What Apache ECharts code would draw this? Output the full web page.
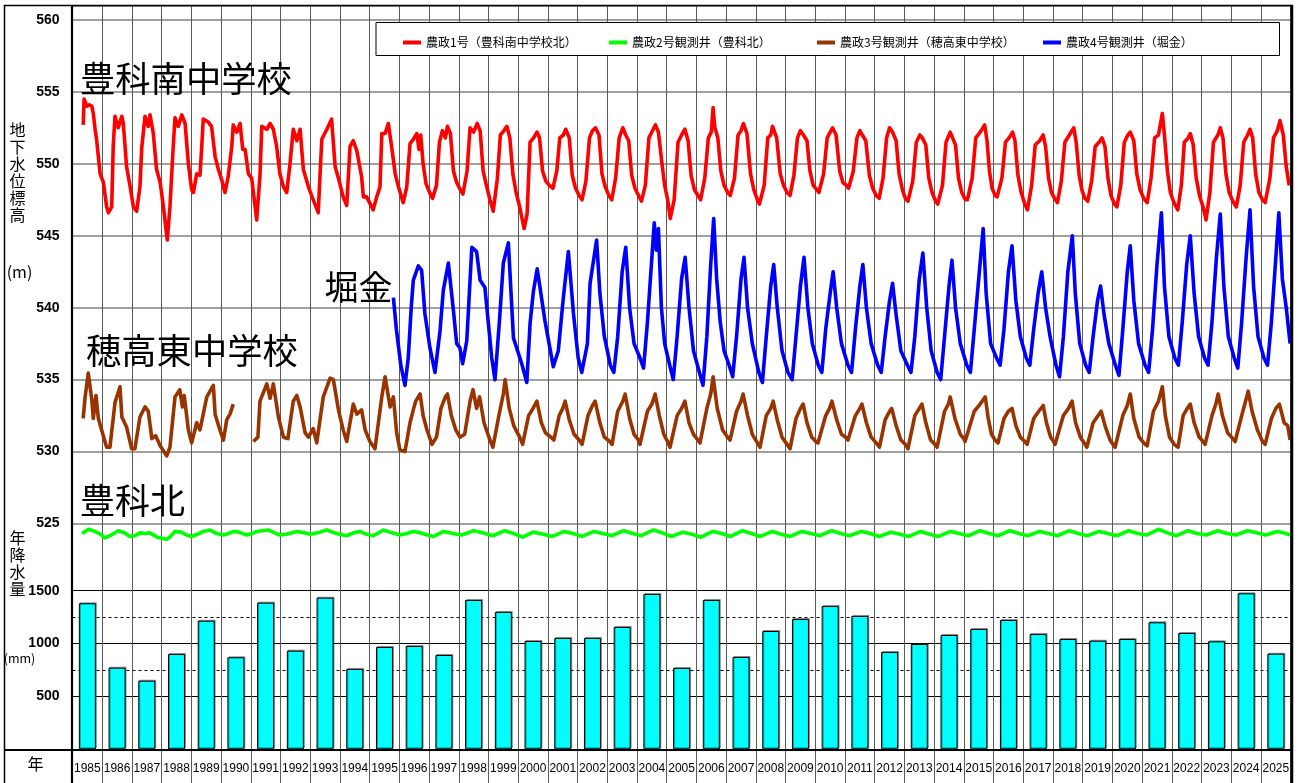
<!DOCTYPE html>
<html>
<head>
<meta charset="utf-8">
<script src="https://cdn.jsdelivr.net/npm/echarts@6/dist/echarts.min.js"></script>
<style>
html,body{margin:0;padding:0;background:#fff;}
#chart{width:1298px;height:783px;}
</style>
</head>
<body>
<div id="chart"></div>
<script>
// 年（降水量の棒グラフとx軸目盛）
const years = [1985,1986,1987,1988,1989,1990,1991,1992,1993,1994,1995,1996,1997,1998,1999,2000,
  2001,2002,2003,2004,2005,2006,2007,2008,2009,2010,2011,2012,2013,2014,2015,2016,2017,2018,2019,2020,
  2021,2022,2023,2024,2025];

// 年降水量 (mm)
const rainfall = [1381,772,649,901,1216,870,1387,933,1434,760,968,977,892,1412,1299,1024,
  1053,1053,1157,1469,769,1412,873,1119,1232,1355,1261,920,996,1081,1138,1223,1090,1043,1027,1043,
  1201,1100,1021,1475,904];

// 地下水位標高 (m)  [年(小数), 標高]
const well1 = [ // 農政1号（豊科南中学校北）
[1985.36,552.7],[1985.39,554.5],[1985.48,554.0],[1985.57,554.1],[1985.65,554.0],[1985.70,553.5],[1985.76,552.4],[1985.81,551.7],[1985.93,549.3],
[1986.04,548.7],[1986.15,547.0],[1986.21,546.6],[1986.32,547.0],[1986.37,551.2],[1986.43,553.3],[1986.54,552.5],[1986.66,553.3],[1986.71,552.8],[1986.82,549.8],[1986.94,548.4],
[1987.05,547.0],[1987.16,546.7],[1987.27,548.4],[1987.33,551.1],[1987.44,553.3],[1987.55,552.6],[1987.61,553.4],[1987.72,552.1],[1987.83,549.6],[1987.95,548.7],
[1988.06,547.0],[1988.19,544.7],[1988.28,547.0],[1988.39,551.2],[1988.45,553.2],[1988.56,552.6],[1988.68,553.4],[1988.79,552.8],[1988.90,550.0],
[1989.01,548.2],[1989.07,548.0],[1989.18,549.3],[1989.29,549.2],[1989.35,551.2],[1989.40,553.1],[1989.57,552.9],[1989.68,552.6],[1989.80,550.5],[1989.91,549.6],
[1990.02,548.9],[1990.13,548.0],[1990.24,549.1],[1990.36,551.2],[1990.41,552.7],[1990.53,552.2],[1990.64,552.8],[1990.73,551.0],[1990.81,551.0],[1990.92,549.3],
[1991.03,549.0],[1991.20,546.1],[1991.31,549.2],[1991.37,552.6],[1991.54,552.4],[1991.65,552.8],[1991.76,552.4],[1991.87,551.2],[1991.98,549.3],
[1992.10,548.4],[1992.21,548.0],[1992.32,550.0],[1992.43,552.4],[1992.55,551.6],[1992.66,552.4],[1992.77,549.6],[1992.94,548.4],
[1993.10,547.5],[1993.27,546.6],[1993.39,551.7],[1993.56,552.4],[1993.72,553.1],[1993.84,549.8],[1993.95,549.0],
[1994.11,547.7],[1994.23,547.1],[1994.34,551.2],[1994.45,551.6],[1994.57,550.9],[1994.73,549.1],[1994.79,547.7],[1994.90,547.7],
[1995.12,546.8],[1995.24,547.7],[1995.35,548.4],[1995.41,552.1],[1995.52,552.1],[1995.63,552.8],[1995.74,551.2],[1995.86,549.3],[1995.97,548.4],
[1996.13,547.3],[1996.25,548.4],[1996.36,551.4],[1996.47,551.7],[1996.59,552.1],[1996.66,551.0],[1996.72,552.0],[1996.80,550.0],[1996.90,548.6],
[1997.02,548.0],[1997.12,547.6],[1997.25,548.5],[1997.35,551.5],[1997.45,552.3],[1997.55,551.8],[1997.62,552.6],[1997.72,552.1],[1997.82,549.5],[1997.93,548.7],
[1998.05,548.2],[1998.14,547.9],[1998.28,549.5],[1998.38,552.5],[1998.50,552.2],[1998.62,552.8],[1998.72,552.3],[1998.82,549.5],[1998.93,548.5],
[1999.05,547.5],[1999.16,546.7],[1999.30,549.0],[1999.40,552.0],[1999.52,552.3],[1999.62,552.6],[1999.72,551.8],[1999.82,549.3],[1999.93,548.0],
[2000.05,547.0],[2000.20,545.5],[2000.30,546.5],[2000.40,551.5],[2000.52,551.8],[2000.63,552.2],[2000.72,551.8],[2000.82,549.5],[2000.93,548.8],
[2001.05,548.5],[2001.17,548.3],[2001.30,549.5],[2001.40,551.8],[2001.52,552.0],[2001.60,552.4],[2001.72,551.8],[2001.82,549.2],[2001.93,548.3],
[2002.05,547.8],[2002.15,547.5],[2002.28,548.8],[2002.40,551.8],[2002.50,552.3],[2002.60,552.5],[2002.72,552.0],[2002.82,549.3],[2002.93,548.4],
[2003.05,547.8],[2003.15,547.5],[2003.28,549.0],[2003.40,551.8],[2003.52,552.5],[2003.62,552.0],[2003.72,551.6],[2003.82,549.2],[2003.93,548.3],
[2004.05,547.8],[2004.15,547.4],[2004.28,548.5],[2004.40,551.8],[2004.52,552.3],[2004.62,552.7],[2004.72,552.2],[2004.84,550.0],[2004.93,548.5],
[2005.03,547.5],[2005.12,546.2],[2005.25,547.5],[2005.38,551.5],[2005.50,552.0],[2005.61,552.4],[2005.72,551.6],[2005.82,549.2],[2005.93,548.2],
[2006.05,547.8],[2006.14,547.5],[2006.28,549.0],[2006.40,551.8],[2006.50,552.2],[2006.56,553.9],[2006.62,552.5],[2006.72,551.8],[2006.82,549.5],[2006.93,548.5],
[2007.05,548.0],[2007.14,547.8],[2007.28,549.0],[2007.40,552.0],[2007.50,552.3],[2007.58,552.8],[2007.70,552.1],[2007.82,549.3],[2007.93,548.2],
[2008.05,547.5],[2008.12,547.2],[2008.28,548.5],[2008.40,551.8],[2008.50,552.0],[2008.56,552.6],[2008.70,551.8],[2008.82,549.3],[2008.93,548.5],
[2009.05,548.0],[2009.15,547.8],[2009.28,549.2],[2009.40,551.8],[2009.50,552.3],[2009.60,552.0],[2009.72,551.6],[2009.82,549.5],[2009.93,548.5],
[2010.05,548.2],[2010.12,548.0],[2010.28,549.3],[2010.40,551.8],[2010.50,552.2],[2010.58,552.5],[2010.70,552.0],[2010.82,549.5],[2010.93,548.7],
[2011.05,548.5],[2011.12,548.3],[2011.28,549.5],[2011.40,551.8],[2011.50,552.3],[2011.58,552.0],[2011.70,551.6],[2011.82,549.2],[2011.93,548.3],
[2012.05,547.8],[2012.15,547.6],[2012.28,549.0],[2012.40,551.8],[2012.50,552.5],[2012.60,552.2],[2012.72,551.6],[2012.82,549.3],[2012.93,548.2],
[2013.03,547.6],[2013.12,547.4],[2013.28,548.8],[2013.40,551.5],[2013.52,552.0],[2013.60,551.8],[2013.72,551.3],[2013.82,549.0],[2013.93,548.0],
[2014.05,547.4],[2014.12,547.2],[2014.28,548.5],[2014.40,551.5],[2014.54,552.2],[2014.62,551.8],[2014.72,551.3],[2014.82,549.0],[2014.93,548.0],
[2015.05,547.5],[2015.12,547.5],[2015.28,549.0],[2015.40,551.8],[2015.55,552.2],[2015.70,552.7],[2015.78,551.6],[2015.86,549.5],[2015.95,548.3],
[2016.05,547.8],[2016.12,547.7],[2016.28,549.0],[2016.40,551.5],[2016.52,551.8],[2016.64,552.2],[2016.72,551.6],[2016.82,549.2],[2016.93,548.0],
[2017.05,547.2],[2017.14,546.8],[2017.28,548.5],[2017.40,551.3],[2017.55,551.6],[2017.67,552.0],[2017.75,551.2],[2017.85,549.0],[2017.95,548.0],
[2018.05,547.6],[2018.15,547.3],[2018.28,548.8],[2018.40,551.5],[2018.55,552.0],[2018.70,552.5],[2018.78,551.5],[2018.88,549.2],[2018.97,548.2],
[2019.07,547.6],[2019.17,547.4],[2019.30,548.8],[2019.42,551.2],[2019.55,551.5],[2019.65,551.8],[2019.75,551.2],[2019.85,549.0],[2019.95,547.8],
[2020.07,547.2],[2020.15,547.0],[2020.28,548.5],[2020.40,551.5],[2020.52,552.0],[2020.60,552.2],[2020.72,551.6],[2020.82,549.3],[2020.93,548.2],
[2021.05,547.6],[2021.17,547.3],[2021.30,549.0],[2021.42,551.8],[2021.55,552.0],[2021.68,553.5],[2021.75,552.0],[2021.85,549.5],[2021.95,548.0],
[2022.07,547.3],[2022.20,546.8],[2022.32,548.5],[2022.42,551.5],[2022.55,551.8],[2022.62,552.1],[2022.72,551.3],[2022.82,549.0],[2022.93,547.8],
[2023.05,547.0],[2023.15,546.1],[2023.28,548.0],[2023.40,551.5],[2023.55,552.0],[2023.63,552.5],[2023.72,551.8],[2023.82,549.3],[2023.93,548.0],
[2024.05,547.4],[2024.17,547.0],[2024.30,548.5],[2024.42,551.5],[2024.55,552.0],[2024.63,552.4],[2024.72,551.8],[2024.82,549.3],[2024.93,548.0],
[2025.05,547.5],[2025.14,547.3],[2025.30,549.0],[2025.42,551.8],[2025.55,552.3],[2025.64,553.0],[2025.75,552.0],[2025.85,549.8],[2025.95,548.5]
];

const well2 = [ // 農政2号観測井（豊科北）
[1985.32,524.3],[1985.54,524.6],[1985.75,524.45],[1985.95,524.25],[1986.09,524.0],[1986.3,524.2],[1986.54,524.5],[1986.75,524.35],[1986.93,524.1],
[1987.1,524.15],[1987.27,524.35],[1987.45,524.3],[1987.6,524.35],[1987.85,524.05],[1988.17,523.9],[1988.3,524.1],[1988.45,524.45],[1988.65,524.4],[1988.84,524.2],
[1989.01,524.1],[1989.2,524.25],[1989.40,524.45],[1989.63,524.55],[1989.85,524.3],[1990.08,524.2],[1990.25,524.3],[1990.41,524.45],[1990.6,524.4],[1990.86,524.2],
[1991.05,524.3],[1991.20,524.45],[1991.59,524.55],[1991.8,524.35],[1991.98,524.2],[1992.2,524.25],[1992.55,524.45],[1992.8,524.35],[1993.0,524.25],[1993.25,524.35],
[1993.56,524.55],[1993.75,524.4],[1993.89,524.3],[1994.23,524.15],[1994.45,524.35],[1994.67,524.45],[1994.9,524.25],[1995.12,524.15],[1995.3,524.35],[1995.46,524.55],
[1995.75,524.35],[1996.02,524.2],[1996.25,524.3],[1996.47,524.45],[1996.7,524.35],[1996.95,524.2],[1997.15,524.1],[1997.5,524.45],[1997.8,524.3],
[1998.1,524.2],[1998.5,524.5],[1998.8,524.35],[1999.15,524.15],[1999.55,524.5],[1999.85,524.3],[2000.15,524.05],[2000.5,524.4],[2000.85,524.25],
[2001.15,524.1],[2001.55,524.45],[2001.85,524.3],[2002.15,524.1],[2002.55,524.45],[2002.85,524.3],[2003.15,524.15],[2003.55,524.5],[2003.85,524.3],
[2004.15,524.15],[2004.55,524.55],[2004.85,524.35],[2005.15,524.1],[2005.55,524.4],[2005.85,524.25],[2006.15,524.05],[2006.55,524.45],[2006.85,524.3],
[2007.15,524.1],[2007.55,524.5],[2007.85,524.3],[2008.15,524.1],[2008.55,524.45],[2008.85,524.25],[2009.15,524.1],[2009.55,524.45],[2009.85,524.3],
[2010.15,524.15],[2010.55,524.5],[2010.85,524.3],[2011.15,524.15],[2011.55,524.45],[2011.85,524.3],[2012.15,524.1],[2012.55,524.4],[2012.85,524.25],
[2013.15,524.1],[2013.55,524.45],[2013.85,524.25],[2014.15,524.1],[2014.55,524.45],[2014.85,524.3],[2015.15,524.15],[2015.55,524.5],[2015.85,524.3],
[2016.15,524.15],[2016.55,524.5],[2016.85,524.3],[2017.15,524.15],[2017.55,524.45],[2017.85,524.3],[2018.15,524.15],[2018.55,524.5],[2018.85,524.3],
[2019.15,524.15],[2019.55,524.45],[2019.85,524.3],[2020.15,524.15],[2020.55,524.5],[2020.85,524.3],[2021.15,524.2],[2021.55,524.6],[2021.85,524.35],
[2022.15,524.15],[2022.55,524.5],[2022.85,524.3],[2023.15,524.2],[2023.55,524.5],[2023.85,524.3],[2024.15,524.2],[2024.55,524.5],[2024.85,524.35],
[2025.15,524.2],[2025.55,524.45],[2025.85,524.3],[2025.98,524.2]
];

const well3 = [ // 農政3号観測井（穂高東中学校）
[1985.36,532.3],[1985.42,533.7],[1985.53,535.45],[1985.65,533.6],[1985.70,532.3],[1985.79,533.9],[1985.87,532.3],[1985.98,531.5],
[1986.15,530.3],[1986.26,530.3],[1986.43,533.4],[1986.60,534.5],[1986.66,532.4],[1986.82,531.7],[1986.99,530.2],
[1987.10,530.2],[1987.27,532.4],[1987.44,533.1],[1987.55,532.8],[1987.67,530.9],[1987.80,531.1],[1987.95,530.4],
[1988.17,529.7],[1988.28,530.3],[1988.45,533.8],[1988.61,534.3],[1988.70,533.1],[1988.76,533.9],[1988.90,531.5],
[1989.01,530.6],[1989.18,532.0],[1989.29,531.5],[1989.52,533.8],[1989.74,534.6],[1989.80,532.6],[1989.96,531.5],
[1990.08,530.8],[1990.19,532.2],[1990.30,532.6],[1990.41,533.3],[1990.75,null],
[1991.09,530.7],[1991.24,531.0],[1991.31,533.5],[1991.54,534.7],[1991.65,533.7],[1991.76,534.7],[1991.93,532.4],
[1992.10,531.0],[1992.25,530.9],[1992.43,533.5],[1992.55,533.9],[1992.66,533.1],[1992.83,531.3],[1992.94,531.0],
[1993.10,531.6],[1993.22,530.6],[1993.44,533.8],[1993.67,535.1],[1993.78,535.0],[1993.95,532.9],
[1994.11,531.5],[1994.23,530.7],[1994.45,533.3],[1994.57,532.6],[1994.73,532.9],[1994.85,531.5],
[1995.01,530.7],[1995.18,530.2],[1995.41,533.8],[1995.52,535.2],[1995.69,533.1],[1995.80,533.8],[1995.91,531.3],
[1996.02,530.1],[1996.19,530.0],[1996.36,532.0],[1996.47,532.9],[1996.55,533.5],[1996.70,534.0],[1996.80,532.5],[1996.93,531.5],
[1997.10,530.5],[1997.25,531.0],[1997.40,533.0],[1997.55,533.8],[1997.62,534.0],[1997.75,532.5],[1997.90,531.5],
[1998.04,531.0],[1998.20,531.2],[1998.38,533.5],[1998.48,534.3],[1998.60,533.0],[1998.70,533.8],[1998.85,532.0],
[1999.05,530.8],[1999.15,530.3],[1999.35,532.5],[1999.50,534.0],[1999.56,535.0],[1999.70,533.0],[1999.85,531.8],
[2000.05,531.0],[2000.15,530.5],[2000.35,532.5],[2000.50,533.0],[2000.63,533.5],[2000.78,532.0],[2000.92,531.3],
[2001.10,531.0],[2001.20,530.8],[2001.38,532.5],[2001.50,533.0],[2001.58,533.5],[2001.72,532.2],[2001.88,531.2],
[2002.05,530.8],[2002.15,530.5],[2002.35,532.5],[2002.50,533.2],[2002.59,533.5],[2002.75,532.0],[2002.90,531.0],
[2003.08,530.7],[2003.16,530.5],[2003.35,532.8],[2003.52,533.5],[2003.60,534.0],[2003.75,532.3],[2003.90,531.2],
[2004.05,530.8],[2004.10,530.5],[2004.35,532.8],[2004.50,533.3],[2004.61,534.0],[2004.75,532.5],[2004.90,531.2],
[2005.05,530.6],[2005.11,530.3],[2005.35,532.5],[2005.50,533.0],[2005.61,533.5],[2005.75,532.0],[2005.90,531.2],
[2006.05,530.8],[2006.12,530.6],[2006.35,533.0],[2006.48,534.0],[2006.56,535.2],[2006.70,533.0],[2006.88,531.5],
[2007.05,531.0],[2007.13,530.8],[2007.35,532.8],[2007.50,533.5],[2007.57,534.0],[2007.72,532.5],[2007.88,531.2],
[2008.05,530.6],[2008.14,530.3],[2008.35,532.5],[2008.50,533.0],[2008.58,533.5],[2008.72,532.2],[2008.88,531.0],
[2009.05,530.5],[2009.15,530.2],[2009.35,532.3],[2009.50,533.0],[2009.59,533.3],[2009.72,532.0],[2009.88,531.0],
[2010.02,530.7],[2010.09,530.6],[2010.35,532.5],[2010.48,533.0],[2010.56,533.5],[2010.72,532.2],[2010.88,531.2],
[2011.02,531.0],[2011.10,530.8],[2011.35,532.5],[2011.50,533.0],[2011.57,533.3],[2011.72,532.0],[2011.88,531.0],
[2012.05,530.6],[2012.16,530.3],[2012.35,532.2],[2012.50,532.8],[2012.57,533.0],[2012.72,531.8],[2012.88,530.8],
[2013.03,530.5],[2013.12,530.2],[2013.35,532.5],[2013.50,533.0],[2013.59,533.3],[2013.72,532.0],[2013.88,530.8],
[2014.03,530.5],[2014.10,530.3],[2014.35,532.8],[2014.48,533.3],[2014.54,533.8],[2014.70,532.3],[2014.88,531.2],
[2015.00,530.9],[2015.04,530.7],[2015.35,532.8],[2015.55,533.3],[2015.72,533.8],[2015.82,532.3],[2015.93,531.2],
[2016.05,530.8],[2016.15,530.6],[2016.35,532.3],[2016.50,532.8],[2016.62,533.0],[2016.75,531.8],[2016.90,531.0],
[2017.05,530.7],[2017.13,530.5],[2017.35,532.3],[2017.52,532.8],[2017.67,533.2],[2017.78,532.0],[2017.92,531.0],
[2018.02,530.7],[2018.07,530.5],[2018.35,532.5],[2018.52,533.0],[2018.64,533.5],[2018.76,532.0],[2018.92,531.0],
[2019.05,530.6],[2019.14,530.3],[2019.35,532.0],[2019.52,532.5],[2019.62,532.8],[2019.75,531.8],[2019.92,530.8],
[2020.02,530.5],[2020.09,530.3],[2020.35,532.5],[2020.50,533.2],[2020.60,534.0],[2020.72,532.3],[2020.90,531.0],
[2021.05,530.6],[2021.17,530.4],[2021.38,532.8],[2021.55,533.5],[2021.68,534.5],[2021.78,532.5],[2021.92,531.0],
[2022.08,530.5],[2022.21,530.3],[2022.38,532.5],[2022.52,533.0],[2022.62,533.3],[2022.75,532.0],[2022.92,531.0],
[2023.05,530.7],[2023.12,530.5],[2023.35,532.5],[2023.48,533.3],[2023.56,534.0],[2023.70,532.5],[2023.88,531.3],
[2024.05,530.9],[2024.13,530.7],[2024.35,532.5],[2024.48,533.5],[2024.57,534.2],[2024.70,532.8],[2024.88,531.5],
[2025.05,530.7],[2025.14,530.5],[2025.35,532.3],[2025.50,533.0],[2025.62,533.3],[2025.78,532.0],[2025.90,531.8],[2025.98,530.8]
];

const well4 = [ // 農政4号観測井（堀金）
[1995.80,540.7],[1995.90,538.5],[1996.05,536.0],[1996.19,534.6],[1996.30,536.5],[1996.40,540.0],[1996.47,541.9],[1996.64,542.9],[1996.75,542.6],[1996.86,539.6],
[1997.03,537.2],[1997.20,535.5],[1997.37,538.4],[1997.48,541.2],[1997.65,543.1],[1997.82,539.8],[1997.93,537.5],
[1998.04,537.2],[1998.13,536.1],[1998.27,537.7],[1998.44,544.2],[1998.60,543.9],[1998.72,541.9],[1998.88,541.4],
[1999.11,536.5],[1999.22,535.0],[1999.37,539.1],[1999.50,543.1],[1999.67,544.5],[1999.84,537.9],
[2000.12,536.1],[2000.29,534.8],[2000.40,538.9],[2000.51,541.1],[2000.64,542.7],[2000.90,539.1],
[2001.18,535.9],[2001.35,537.0],[2001.52,540.7],[2001.69,543.9],[2001.86,539.6],
[2002.02,536.5],[2002.14,535.5],[2002.33,537.5],[2002.42,541.7],[2002.64,544.7],[2002.75,541.0],[2002.90,538.0],
[2003.10,536.0],[2003.22,535.5],[2003.35,538.0],[2003.50,542.5],[2003.62,544.2],[2003.75,540.0],[2003.90,537.5],
[2004.10,536.5],[2004.22,535.8],[2004.35,539.0],[2004.50,543.5],[2004.58,545.9],[2004.65,544.0],[2004.72,545.5],[2004.82,540.0],[2004.93,537.5],
[2005.10,536.0],[2005.22,535.0],[2005.35,538.0],[2005.50,542.0],[2005.62,543.5],[2005.75,540.0],[2005.90,537.0],
[2006.10,535.5],[2006.22,534.6],[2006.35,538.0],[2006.48,543.0],[2006.58,546.2],[2006.68,542.0],[2006.80,539.0],[2006.93,537.0],
[2007.10,536.0],[2007.22,535.2],[2007.35,538.0],[2007.50,542.0],[2007.60,543.5],[2007.72,540.0],[2007.88,537.5],
[2008.10,535.5],[2008.22,534.8],[2008.35,538.0],[2008.50,541.5],[2008.60,543.0],[2008.72,540.0],[2008.88,537.0],
[2009.08,535.5],[2009.22,535.0],[2009.35,538.0],[2009.50,541.5],[2009.62,543.5],[2009.75,540.0],[2009.90,537.5],
[2010.10,536.0],[2010.22,535.5],[2010.35,538.5],[2010.50,541.0],[2010.60,542.5],[2010.72,540.0],[2010.88,537.5],
[2011.10,536.0],[2011.22,535.5],[2011.35,538.5],[2011.50,541.5],[2011.60,543.0],[2011.72,540.0],[2011.88,537.5],
[2012.10,536.0],[2012.22,535.5],[2012.35,538.0],[2012.50,540.5],[2012.60,541.7],[2012.72,539.5],[2012.88,537.0],
[2013.10,536.0],[2013.22,535.5],[2013.35,538.0],[2013.50,542.0],[2013.62,543.8],[2013.75,540.0],[2013.90,537.0],
[2014.10,535.5],[2014.22,535.0],[2014.35,538.0],[2014.50,541.5],[2014.60,543.3],[2014.72,540.0],[2014.88,537.5],
[2015.10,536.0],[2015.22,535.5],[2015.35,538.5],[2015.50,542.0],[2015.65,545.5],[2015.75,541.0],[2015.90,537.5],
[2016.10,536.5],[2016.22,536.0],[2016.35,538.5],[2016.50,542.5],[2016.62,544.3],[2016.75,540.5],[2016.90,538.0],
[2017.10,536.5],[2017.22,536.0],[2017.35,538.5],[2017.50,541.0],[2017.62,542.5],[2017.75,540.0],[2017.90,538.0],
[2018.10,536.0],[2018.22,535.2],[2018.35,538.0],[2018.50,542.5],[2018.65,545.0],[2018.75,541.0],[2018.90,537.5],
[2019.10,536.0],[2019.22,535.5],[2019.35,538.0],[2019.50,540.5],[2019.60,541.5],[2019.72,539.5],[2019.88,537.5],
[2020.10,536.0],[2020.22,535.3],[2020.35,538.5],[2020.50,542.5],[2020.60,544.3],[2020.72,540.5],[2020.88,537.5],
[2021.10,536.0],[2021.22,535.5],[2021.35,538.5],[2021.50,543.0],[2021.65,546.6],[2021.75,541.5],[2021.90,538.0],
[2022.10,536.5],[2022.22,536.0],[2022.35,539.0],[2022.50,543.0],[2022.62,545.0],[2022.75,541.0],[2022.90,538.0],
[2023.10,536.5],[2023.22,536.0],[2023.35,539.0],[2023.50,543.5],[2023.63,546.5],[2023.75,541.5],[2023.90,538.0],
[2024.10,536.5],[2024.22,535.8],[2024.35,539.0],[2024.50,543.5],[2024.63,546.8],[2024.75,541.5],[2024.90,538.0],
[2025.10,536.5],[2025.22,536.0],[2025.35,539.0],[2025.50,543.5],[2025.60,546.6],[2025.72,542.0],[2025.85,540.0],[2025.98,537.5]
];

// 凡例名
const names = ['農政1号（豊科南中学校北）','農政2号観測井（豊科北）','農政3号観測井（穂高東中学校）','農政4号観測井（堀金）'];
const colors = ['#ff0000','#00ff00','#993300','#0000ff'];
const wells = [well1, well2, well3, well4];
const legendLeft = [403, 609, 817, 1043];

const JP = '"Noto Sans CJK JP", sans-serif';
const NUM = '"Liberation Sans", Arial, sans-serif';

const PLOT_L = 72.5, PLOT_W = 1218.2;
const PX_PER_M = 518 / 36;          // 標高軸の1mあたりの高さ
const Y525 = 5.5 + 518;             // 525m の位置

const chart = echarts.init(document.getElementById('chart'), null, {renderer: 'canvas'});

// 豊科北は525m線より下に描かれるので、同じ縮尺の補助グリッド(523〜525m)を使う
const lineSeries = wells.map((d, i) => ({
  type: 'line', name: names[i],
  xAxisIndex: i === 1 ? 4 : 1, yAxisIndex: i === 1 ? 4 : 1, data: d,
  showSymbol: false, symbol: 'none', connectNulls: false, clip: false,
  lineStyle: {color: colors[i], width: 3.6, join: 'round'},
  itemStyle: {color: colors[i]}, z: 3 + i, silent: true
}));

const legends = names.map((n, i) => ({
  data: [n], left: legendLeft[i], top: 36.5, padding: 0, itemWidth: 18, itemHeight: 4,
  icon: 'rect', selectedMode: false, z: 20,
  textStyle: {fontSize: 12, color: '#000', fontFamily: JP}
}));

function txt(text, x, y, size, opt) {
  return {
    type: 'text', x: x, y: y, z: 25, silent: true,
    style: Object.assign({text: text, fill: '#000', fontSize: size, fontFamily: JP,
      align: 'left', verticalAlign: 'middle', textAlign: 'left', textVerticalAlign: 'middle'}, opt || {})
  };
}
function hline(x1, x2, y, w) {
  return {type: 'line', z: 30, silent: true, shape: {x1: x1, y1: y, x2: x2, y2: y}, style: {stroke: '#000', lineWidth: w}};
}
function vline(x, y1, y2, w) {
  return {type: 'line', z: 30, silent: true, shape: {x1: x, y1: y1, x2: x, y2: y2}, style: {stroke: '#000', lineWidth: w}};
}

const option = {
  animation: false,
  backgroundColor: '#fff',
  grid: [
    {left: PLOT_L, top: 5.5, width: PLOT_W, height: 777.5, outerBoundsMode: 'none'},
    {left: PLOT_L, top: 5.5, width: PLOT_W, height: 518, outerBoundsMode: 'none'},
    {left: PLOT_L, top: 590.7, width: PLOT_W, height: 158.6, outerBoundsMode: 'none'},
    {left: PLOT_L, top: 616.9, width: PLOT_W, height: 52.9, outerBoundsMode: 'none'},
    {left: PLOT_L, top: Y525, width: PLOT_W, height: PX_PER_M * 2, outerBoundsMode: 'none'}
  ],
  xAxis: [
    {gridIndex: 0, type: 'value', min: 0, max: 41, interval: 1,
      axisLabel: {show: false}, axisLine: {show: false}, axisTick: {show: false},
      splitLine: {show: true, lineStyle: {color: '#5a5a5a', width: 1}}},
    {gridIndex: 1, type: 'value', min: 1985, max: 2026, show: false},
    {gridIndex: 2, type: 'category', data: years.map(String),
      axisLine: {show: false}, axisTick: {show: false}, splitLine: {show: false},
      axisLabel: {interval: 0, margin: 13, fontSize: 12, color: '#000', fontFamily: NUM}},
    {gridIndex: 3, type: 'value', min: 0, max: 1, show: false},
    {gridIndex: 4, type: 'value', min: 1985, max: 2026, show: false}
  ],
  yAxis: [
    {gridIndex: 0, type: 'value', min: 0, max: 1, show: false},
    {gridIndex: 1, type: 'value', min: 525, max: 561, interval: 5,
      axisLine: {show: false}, axisTick: {show: false},
      axisLabel: {margin: 13, fontSize: 14, fontWeight: 'bold', color: '#000', fontFamily: NUM,
        formatter: v => (v % 5 === 0 ? String(v) : '')},
      splitLine: {show: true, lineStyle: {color: '#808080', width: 1.5}}},
    {gridIndex: 2, type: 'value', min: 0, max: 1500, interval: 500,
      axisLine: {show: false}, axisTick: {show: false},
      axisLabel: {margin: 13, fontSize: 14, fontWeight: 'bold', color: '#000', fontFamily: NUM,
        showMinLabel: false, formatter: v => String(v)},
      splitLine: {show: true, lineStyle: {color: '#000', width: 1}}},
    // 750mm・1250mm の破線
    {gridIndex: 3, type: 'value', min: 750, max: 1250, interval: 500,
      axisLine: {show: false}, axisTick: {show: false}, axisLabel: {show: false},
      splitLine: {show: true, lineStyle: {color: '#000', width: 1, type: [3, 3]}}},
    {gridIndex: 4, type: 'value', min: 523, max: 525, show: false}
  ],
  legend: legends,
  series: lineSeries.concat([{
    type: 'bar', name: '年降水量', xAxisIndex: 2, yAxisIndex: 2, data: rainfall,
    barWidth: 17, silent: true, z: 3,
    itemStyle: {color: '#00ffff', borderColor: '#000', borderWidth: 1,
      shadowColor: 'rgba(0,0,0,0.35)', shadowOffsetX: 1, shadowOffsetY: -1, shadowBlur: 0}
  }]),
  graphic: {elements: [
    // 凡例の枠
    {type: 'rect', z: 10, silent: true, shape: {x: 376, y: 22.5, width: 903.5, height: 33},
      style: {fill: '#fff', stroke: '#000', lineWidth: 1}},
    // 外枠と区切り線
    {type: 'rect', z: 30, silent: true, shape: {x: 4.5, y: 5.5, width: 1288, height: 800},
      style: {fill: 'none', stroke: '#000', lineWidth: 1.5}},
    vline(72, 5, 783, 2.2),
    vline(1291.2, 5, 783, 1.6),
    hline(4.5, 1292.5, 750, 2),
    // 地点名
    txt('豊科南中学校', 80, 79, 35.3),
    txt('堀金', 324.5, 287, 34),
    txt('穂高東中学校', 86, 351, 35.3),
    txt('豊科北', 80, 501, 35),
    // 軸タイトル
    txt('地\n下\n水\n位\n標\n高', 17.5, 121, 16, {align: 'center', textAlign: 'center', verticalAlign: 'top', textVerticalAlign: 'top', lineHeight: 17}),
    txt('(m)', 19.5, 272, 16, {align: 'center', textAlign: 'center'}),
    txt('年\n降\n水\n量', 17.5, 529, 16, {align: 'center', textAlign: 'center', verticalAlign: 'top', textVerticalAlign: 'top', lineHeight: 17.2}),
    txt('(mm)', 19.5, 658.5, 12.5, {align: 'center', textAlign: 'center'}),
    txt('年', 35.5, 764, 16, {align: 'center', textAlign: 'center'})
  ]}
};

chart.setOption(option);
</script>
</body>
</html>
